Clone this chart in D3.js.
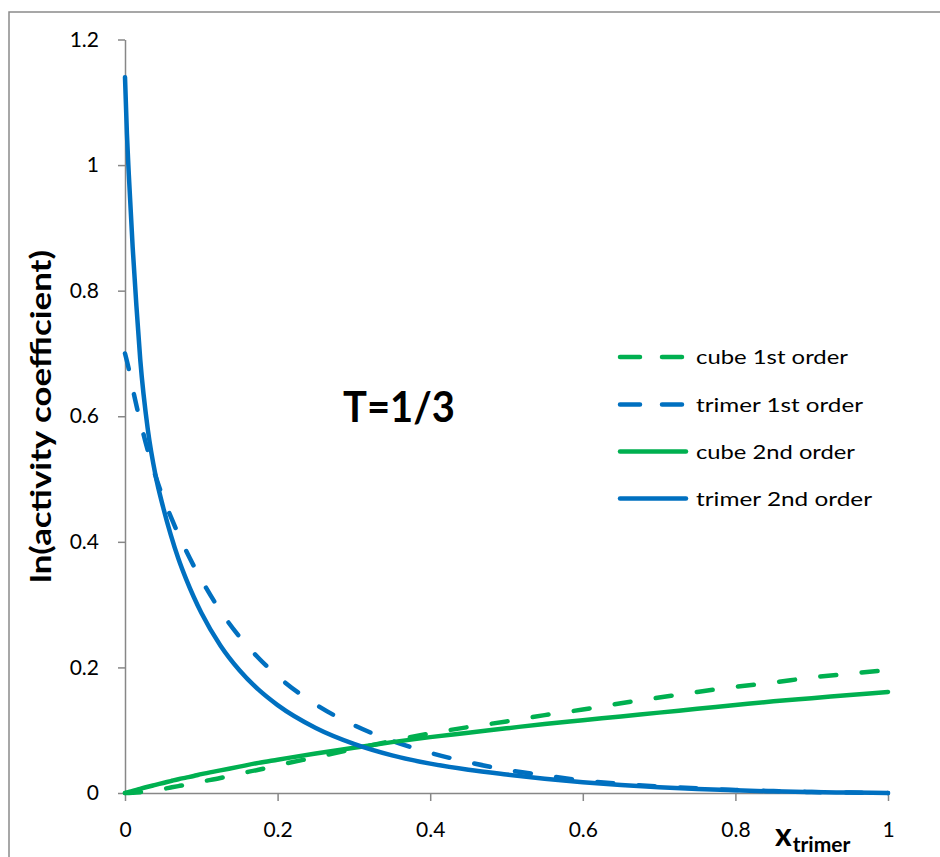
<!DOCTYPE html>
<html>
<head>
<meta charset="utf-8">
<script src="https://cdn.jsdelivr.net/npm/d3@7/dist/d3.min.js"></script>
<style>
  html, body { margin: 0; padding: 0; background: #ffffff; }
  svg { display: block; }
  text { font-family: Lato, "Open Sans", "Noto Sans", sans-serif; fill: #000; }
</style>
</head>
<body>
<svg id="chart" width="940" height="857"></svg>
<script>
// Mole fraction of trimer at which each curve is sampled
const xTrimer = [0, 0.0025, 0.005, 0.01, 0.015, 0.02, 0.03, 0.04, 0.05, 0.06, 0.07, 0.08, 0.09, 0.1,
  0.125, 0.15, 0.175, 0.2, 0.25, 0.3, 0.35, 0.4, 0.45, 0.5, 0.55, 0.6, 0.65, 0.7, 0.75, 0.8, 0.85, 0.9, 0.95, 1];

// ln(activity coefficient) for each species and order of the expansion
const cube1st = [0, 0, 0.0001, 0.0004, 0.0008, 0.0013, 0.0025, 0.0045, 0.0065, 0.0088, 0.011, 0.013, 0.0155, 0.018,
  0.024, 0.031, 0.037, 0.044, 0.057, 0.070, 0.083, 0.095, 0.105, 0.114, 0.124, 0.133, 0.143, 0.152, 0.161, 0.169, 0.176, 0.184, 0.190, 0.196];
const trimer1st = [0.70, 0.688, 0.675, 0.645, 0.617, 0.592, 0.545, 0.505, 0.47, 0.44, 0.412, 0.386, 0.362, 0.34,
  0.29, 0.249, 0.215, 0.186, 0.141, 0.108, 0.083, 0.064, 0.049, 0.037, 0.028, 0.020, 0.0145, 0.0105, 0.0073, 0.0048, 0.003, 0.0016, 0.0007, 0];
const cube2nd = [0, 0.001, 0.0017, 0.0034, 0.005, 0.0067, 0.010, 0.013, 0.016, 0.019, 0.022, 0.0245, 0.027, 0.030,
  0.036, 0.042, 0.048, 0.053, 0.063, 0.072, 0.081, 0.089, 0.096, 0.103, 0.110, 0.116, 0.122, 0.128, 0.134, 0.140, 0.146, 0.151, 0.156, 0.161];
const trimer2nd = [1.14, 1.05, 0.985, 0.87, 0.775, 0.69, 0.578, 0.506, 0.455, 0.411, 0.373, 0.341, 0.3125, 0.287,
  0.235, 0.1955, 0.1645, 0.140, 0.1036, 0.0783, 0.060, 0.0468, 0.037, 0.0295, 0.0228, 0.0172, 0.0127, 0.0092, 0.0064, 0.0042, 0.0026, 0.0014, 0.0006, 0];

const seriesNames = ["cube 1st order", "trimer 1st order", "cube 2nd order", "trimer 2nd order"];
const xTickValues = [0, 0.2, 0.4, 0.6, 0.8, 1];
const xTickLabels = ["0", "0.2", "0.4", "0.6", "0.8", "1"];
const yTickValues = [0, 0.2, 0.4, 0.6, 0.8, 1, 1.2];
const yTickLabels = ["0", "0.2", "0.4", "0.6", "0.8", "1", "1.2"];

const GREEN = "#00B050", BLUE = "#0070C0", AXIS = "#878787";
const series = [
  { name: seriesNames[0], values: cube1st,   color: GREEN, dashed: true },
  { name: seriesNames[1], values: trimer1st, color: BLUE,  dashed: true },
  { name: seriesNames[2], values: cube2nd,   color: GREEN, dashed: false },
  { name: seriesNames[3], values: trimer2nd, color: BLUE,  dashed: false }
];

const svg = d3.select("#chart");
const plot = { left: 125, right: 888, top: 39.5, bottom: 793 };

// outer chart frame (only top and left edges fall inside the page)
svg.append("rect")
  .attr("x", 9).attr("y", 12).attr("width", 960).attr("height", 900)
  .attr("fill", "none").attr("stroke", "#8a8a8a").attr("stroke-width", 1.5);

const x = d3.scaleLinear().domain([0, 1]).range([plot.left, plot.right]);
const y = d3.scaleLinear().domain([0, 1.2]).range([plot.bottom, plot.top]);

// axes
const yAxis = d3.axisLeft(y).tickValues(yTickValues)
  .tickFormat((d, i) => yTickLabels[i]).tickSize(7).tickSizeOuter(0).tickPadding(19);
const xAxis = d3.axisBottom(x).tickValues(xTickValues)
  .tickFormat((d, i) => xTickLabels[i]).tickSize(8).tickSizeOuter(0).tickPadding(21);

const gy = svg.append("g").attr("transform", `translate(${plot.left},0)`).call(yAxis);
const gx = svg.append("g").attr("transform", `translate(0,${plot.bottom})`).call(xAxis);
[gx, gy].forEach(g => {
  g.select(".domain").attr("stroke", AXIS).attr("stroke-width", 1.5);
  g.selectAll(".tick line").attr("stroke", AXIS).attr("stroke-width", 1.5);
  g.selectAll(".tick text").attr("fill", "#000")
    .style("font-family", "Lato, 'Open Sans', sans-serif").style("font-size", "21px");
});

// curves
const line = d3.line()
  .x((d, i) => x(xTrimer[i]))
  .y(d => y(d))
  .curve(d3.curveMonotoneX);

const DASH = "16,25.5";
svg.append("g").selectAll("path")
  .data(series)
  .join("path")
  .attr("d", d => line(d.values))
  .attr("fill", "none")
  .attr("stroke", d => d.color)
  .attr("stroke-width", 4.5)
  .attr("stroke-linecap", "round")
  .attr("stroke-linejoin", "round")
  .attr("stroke-dasharray", d => d.dashed ? DASH : null);

// legend
const legendWidths = [152, 167, 159, 176];
const legend = svg.append("g");
const legendY = [357, 404.5, 451.5, 498.5];
series.forEach((s, i) => {
  legend.append("line")
    .attr("x1", 620).attr("x2", 686)
    .attr("y1", legendY[i]).attr("y2", legendY[i])
    .attr("stroke", s.color).attr("stroke-width", 4.5)
    .attr("stroke-linecap", "round")
    .attr("stroke-dasharray", s.dashed ? "20,22" : null);
  legend.append("text")
    .attr("x", 696).attr("y", legendY[i] + 7)
    .attr("font-size", 20)
    .attr("textLength", legendWidths[i]).attr("lengthAdjust", "spacingAndGlyphs")
    .text(s.name);
});

// annotation
svg.append("text")
  .attr("x", 343).attr("y", 422)
  .attr("font-size", 42).attr("font-weight", "bold")
  .attr("textLength", 112).attr("lengthAdjust", "spacingAndGlyphs")
  .text("T=1/3");

// y-axis title
svg.append("text")
  .attr("transform", "translate(51,416.5) rotate(-90)")
  .attr("text-anchor", "middle")
  .attr("font-size", 29).attr("font-weight", "bold")
  .attr("textLength", 333).attr("lengthAdjust", "spacingAndGlyphs")
  .text("ln(activity coefficient)");

// x-axis title with subscript
const xt = svg.append("text")
  .attr("x", 775).attr("y", 846)
  .attr("font-weight", "bold");
xt.append("tspan").attr("font-size", 32).text("x");
xt.append("tspan").attr("font-size", 21).attr("dy", 6).attr("dx", 1).text("trimer");
</script>
</body>
</html>
